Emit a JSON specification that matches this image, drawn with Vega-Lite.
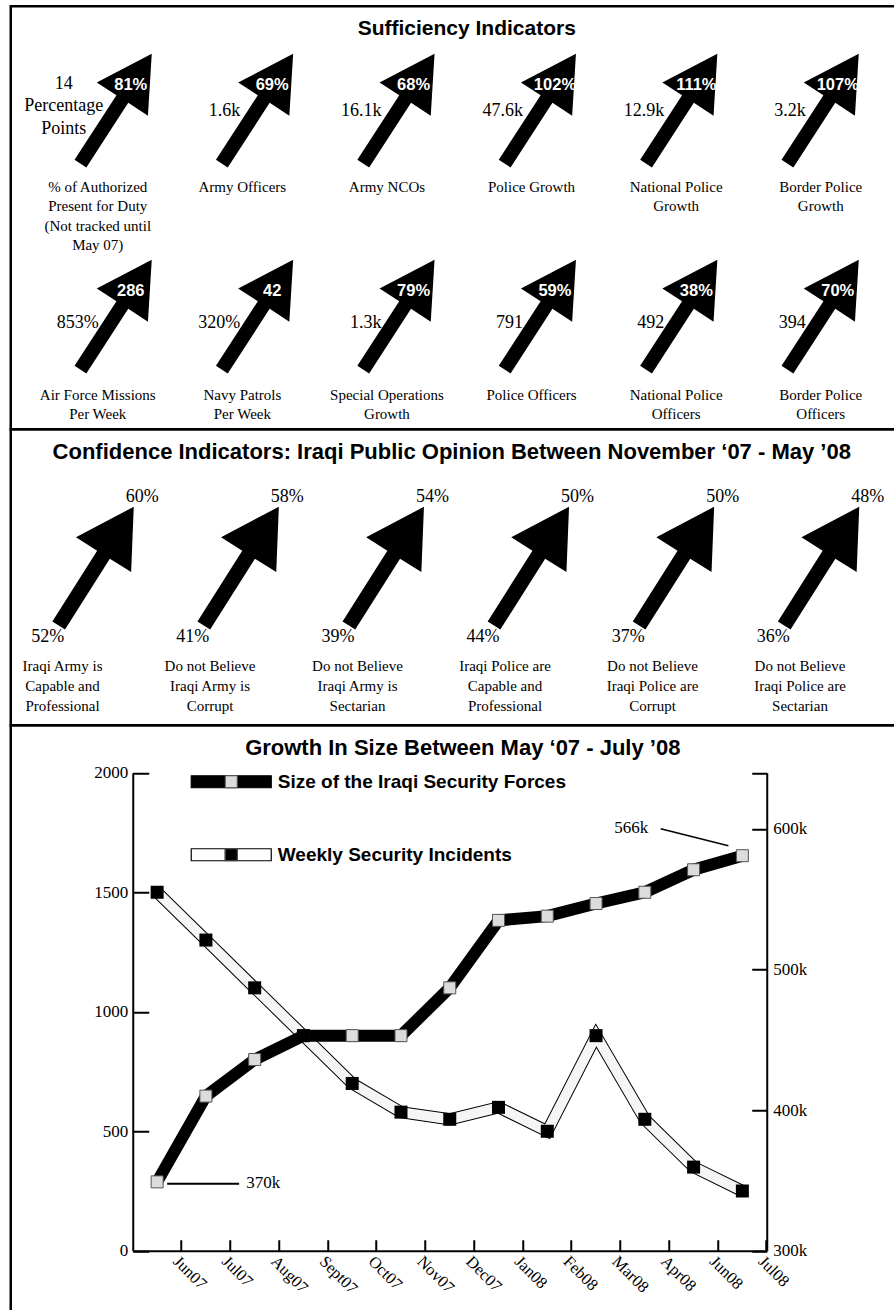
{
  "$schema": "https://vega.github.io/schema/vega-lite/v6.json",
  "padding": {"left": 8.75, "top": 4.25, "right": 0, "bottom": 0},
  "background": "white",
  "spacing": 0,
  "bounds": "flush",
  "resolve": {"scale": {"color": "independent", "fill": "independent"}, "legend": {"color": "independent", "fill": "independent"}},
  "config": {
    "view": {"stroke": "black", "strokeWidth": 2.5},
    "axis": {"grid": false, "domainColor": "black", "domainWidth": 2, "tickColor": "black", "tickWidth": 2, "labelColor": "black", "labelFont": "Liberation Serif", "labelFontSize": 17}
  },
  "datasets": {
    "suff": [
      {"col": 0, "row": 0, "pct": "81%", "lead": "14\nPercentage\nPoints", "label": "% of Authorized\nPresent for Duty\n(Not tracked until\nMay 07)"},
      {"col": 1, "row": 0, "pct": "69%", "lead": "1.6k", "label": "Army Officers"},
      {"col": 2, "row": 0, "pct": "68%", "lead": "16.1k", "label": "Army NCOs"},
      {"col": 3, "row": 0, "pct": "102%", "lead": "47.6k", "label": "Police Growth"},
      {"col": 4, "row": 0, "pct": "111%", "lead": "12.9k", "label": "National Police\nGrowth"},
      {"col": 5, "row": 0, "pct": "107%", "lead": "3.2k", "label": "Border Police\nGrowth"},
      {"col": 0, "row": 1, "pct": "286", "lead": "853%", "label": "Air Force Missions\nPer Week"},
      {"col": 1, "row": 1, "pct": "42", "lead": "320%", "label": "Navy Patrols\nPer Week"},
      {"col": 2, "row": 1, "pct": "79%", "lead": "1.3k", "label": "Special Operations\nGrowth"},
      {"col": 3, "row": 1, "pct": "59%", "lead": "791", "label": "Police Officers"},
      {"col": 4, "row": 1, "pct": "38%", "lead": "492", "label": "National Police\nOfficers"},
      {"col": 5, "row": 1, "pct": "70%", "lead": "394", "label": "Border Police\nOfficers"}
    ],
    "conf": [
      {"col": 0, "row": 0, "to": "60%", "from": "52%", "label": "Iraqi Army is\nCapable and\nProfessional"},
      {"col": 1, "row": 0, "to": "58%", "from": "41%", "label": "Do not Believe\nIraqi Army is\nCorrupt"},
      {"col": 2, "row": 0, "to": "54%", "from": "39%", "label": "Do not Believe\nIraqi Army is\nSectarian"},
      {"col": 3, "row": 0, "to": "50%", "from": "44%", "label": "Iraqi Police are\nCapable and\nProfessional"},
      {"col": 4, "row": 0, "to": "50%", "from": "37%", "label": "Do not Believe\nIraqi Police are\nCorrupt"},
      {"col": 5, "row": 0, "to": "48%", "from": "36%", "label": "Do not Believe\nIraqi Police are\nSectarian"}
    ],
    "forces": [
      {"month": "Jun07", "k": 349, "note": "370k", "series": "Size of the Iraqi Security Forces", "key": "S"},
      {"month": "Jul07", "k": 410, "note": "", "series": "Size of the Iraqi Security Forces", "key": "S"},
      {"month": "Aug07", "k": 436, "note": "", "series": "Size of the Iraqi Security Forces", "key": "S"},
      {"month": "Sept07", "k": 453, "note": "", "series": "Size of the Iraqi Security Forces", "key": "S"},
      {"month": "Oct07", "k": 453, "note": "", "series": "Size of the Iraqi Security Forces", "key": "S"},
      {"month": "Nov07", "k": 453, "note": "", "series": "Size of the Iraqi Security Forces", "key": "S"},
      {"month": "Dec07", "k": 487, "note": "", "series": "Size of the Iraqi Security Forces", "key": "S"},
      {"month": "Jan08", "k": 535, "note": "", "series": "Size of the Iraqi Security Forces", "key": "S"},
      {"month": "Feb08", "k": 538, "note": "", "series": "Size of the Iraqi Security Forces", "key": "S"},
      {"month": "Mar08", "k": 547, "note": "", "series": "Size of the Iraqi Security Forces", "key": "S"},
      {"month": "Apr08", "k": 555, "note": "", "series": "Size of the Iraqi Security Forces", "key": "S"},
      {"month": "Jun08", "k": 571, "note": "", "series": "Size of the Iraqi Security Forces", "key": "S"},
      {"month": "Jul08", "k": 581, "note": "566k", "series": "Size of the Iraqi Security Forces", "key": "S"}
    ],
    "incidents": [
      {"month": "Jun07", "value": 1500, "series": "Weekly Security Incidents", "key": "W"},
      {"month": "Jul07", "value": 1300, "series": "Weekly Security Incidents", "key": "W"},
      {"month": "Aug07", "value": 1100, "series": "Weekly Security Incidents", "key": "W"},
      {"month": "Sept07", "value": 900, "series": "Weekly Security Incidents", "key": "W"},
      {"month": "Oct07", "value": 700, "series": "Weekly Security Incidents", "key": "W"},
      {"month": "Nov07", "value": 580, "series": "Weekly Security Incidents", "key": "W"},
      {"month": "Dec07", "value": 550, "series": "Weekly Security Incidents", "key": "W"},
      {"month": "Jan08", "value": 600, "series": "Weekly Security Incidents", "key": "W"},
      {"month": "Feb08", "value": 500, "series": "Weekly Security Incidents", "key": "W"},
      {"month": "Mar08", "value": 900, "series": "Weekly Security Incidents", "key": "W"},
      {"month": "Apr08", "value": 550, "series": "Weekly Security Incidents", "key": "W"},
      {"month": "Jun08", "value": 350, "series": "Weekly Security Incidents", "key": "W"},
      {"month": "Jul08", "value": 250, "series": "Weekly Security Incidents", "key": "W"}
    ],
    "legendRows": [
      {"month": "Jun07", "series": "Size of the Iraqi Security Forces"},
      {"month": "Jun07", "series": "Weekly Security Incidents"}
    ]
  },
  "vconcat": [
    {
      "width": 886,
      "height": 423,
      "title": {"text": "Sufficiency Indicators", "frame": "group", "anchor": "middle", "baseline": "alphabetic", "offset": -30.75, "dy": 19, "dx": 13, "font": "Liberation Sans", "fontSize": 21, "fontWeight": "bold", "color": "black"},
      "data": {"name": "suff"},
      "resolve": {"scale": {"x": "independent", "y": "independent"}},
      "layer": [
        {
          "mark": {"type": "point", "shape": "M0,0L-3.8,61.9L-23.5,49.1L-65.4,113.7L-77.2,106.1L-35.3,41.5L-55,28.7Z", "size": 4, "filled": true, "fill": "black", "strokeWidth": 0, "opacity": 1},
          "encoding": {
            "x": {"field": "col", "type": "quantitative", "scale": {"domain": [0, 5], "range": [141, 848], "nice": false, "zero": false}, "axis": null},
            "y": {"field": "row", "type": "quantitative", "scale": {"domain": [0, 1], "range": [47.5, 253.5], "nice": false, "zero": false}, "axis": null}
          }
        },
        {
          "mark": {"type": "text", "font": "Liberation Sans", "fontWeight": "bold", "fontSize": 16.5, "fill": "white", "align": "center", "baseline": "middle", "dx": -21, "dy": 31},
          "encoding": {
            "x": {"field": "col", "type": "quantitative", "scale": {"domain": [0, 5], "range": [141, 848], "nice": false, "zero": false}, "axis": null},
            "y": {"field": "row", "type": "quantitative", "scale": {"domain": [0, 1], "range": [47.5, 253.5], "nice": false, "zero": false}, "axis": null},
            "text": {"field": "pct"}
          }
        },
        {
          "transform": [{"filter": "indexof(datum.lead, '\\n') < 0"}],
          "mark": {"type": "text", "font": "Liberation Serif", "fontSize": 18, "fill": "black", "align": "right", "baseline": "middle", "dx": -53, "dy": 57},
          "encoding": {
            "x": {"field": "col", "type": "quantitative", "scale": {"domain": [0, 5], "range": [141, 848], "nice": false, "zero": false}, "axis": null},
            "y": {"field": "row", "type": "quantitative", "scale": {"domain": [0, 1], "range": [47.5, 259.5], "nice": false, "zero": false}, "axis": null},
            "text": {"field": "lead"}
          }
        },
        {
          "transform": [{"filter": "indexof(datum.lead, '\\n') >= 0"}],
          "mark": {"type": "text", "font": "Liberation Serif", "fontSize": 18, "fill": "black", "align": "center", "baseline": "middle", "dx": -88, "dy": 30, "lineBreak": "\n", "lineHeight": 22.5},
          "encoding": {
            "x": {"field": "col", "type": "quantitative", "scale": {"domain": [0, 5], "range": [141, 848], "nice": false, "zero": false}, "axis": null},
            "y": {"field": "row", "type": "quantitative", "scale": {"domain": [0, 1], "range": [47.5, 259.5], "nice": false, "zero": false}, "axis": null},
            "text": {"field": "lead"}
          }
        },
        {
          "mark": {"type": "text", "font": "Liberation Serif", "fontSize": 15, "fill": "black", "align": "center", "baseline": "alphabetic", "dy": 138, "lineBreak": "\n", "lineHeight": 19.5},
          "encoding": {
            "x": {"field": "col", "type": "quantitative", "scale": {"domain": [0, 5], "range": [87, 810], "nice": false, "zero": false}, "axis": null},
            "y": {"field": "row", "type": "quantitative", "scale": {"domain": [0, 1], "range": [47.5, 255.5], "nice": false, "zero": false}, "axis": null},
            "text": {"field": "label"}
          }
        }
      ]
    },
    {
      "width": 886,
      "height": 296,
      "title": {"text": "Confidence Indicators: Iraqi Public Opinion Between November ‘07 - May ’08", "frame": "group", "anchor": "middle", "baseline": "alphabetic", "offset": -32.75, "dy": 18.5, "dx": -2, "font": "Liberation Sans", "fontSize": 22, "fontWeight": "bold", "color": "black"},
      "data": {"name": "conf"},
      "resolve": {"scale": {"x": "independent"}},
      "encoding": {
        "y": {"field": "row", "type": "quantitative", "scale": {"domain": [0, 1], "range": [77.5, 277.5], "nice": false, "zero": false}, "axis": null}
      },
      "layer": [
        {
          "mark": {"type": "point", "shape": "M0,0L-2.6,65.3L-23.9,51.9L-68.7,122.8L-81.4,114.8L-36.6,43.9L-57.8,30.5Z", "size": 4, "filled": true, "fill": "black", "strokeWidth": 0, "opacity": 1},
          "encoding": {
            "x": {"field": "col", "type": "quantitative", "scale": {"domain": [0, 5], "range": [123, 848.5], "nice": false, "zero": false}, "axis": null}
          }
        },
        {
          "mark": {"type": "text", "font": "Liberation Serif", "fontSize": 18, "fill": "black", "align": "left", "baseline": "alphabetic", "dx": -8, "dy": -5},
          "encoding": {
            "x": {"field": "col", "type": "quantitative", "scale": {"domain": [0, 5], "range": [123, 848.5], "nice": false, "zero": false}, "axis": null},
            "text": {"field": "to"}
          }
        },
        {
          "mark": {"type": "text", "font": "Liberation Serif", "fontSize": 18, "fill": "black", "align": "center", "baseline": "alphabetic", "dx": -86, "dy": 135},
          "encoding": {
            "x": {"field": "col", "type": "quantitative", "scale": {"domain": [0, 5], "range": [123, 848.5], "nice": false, "zero": false}, "axis": null},
            "text": {"field": "from"}
          }
        },
        {
          "mark": {"type": "text", "font": "Liberation Serif", "fontSize": 15, "fill": "black", "align": "center", "baseline": "alphabetic", "dy": 164, "lineBreak": "\n", "lineHeight": 20},
          "encoding": {
            "x": {"field": "col", "type": "quantitative", "scale": {"domain": [0, 5], "range": [51.75, 789.25], "nice": false, "zero": false}, "axis": null},
            "text": {"field": "label"}
          }
        }
      ]
    },
    {
      "width": 886,
      "height": 590,
      "title": {"text": "Growth In Size Between May ‘07 - July ’08", "frame": "group", "anchor": "middle", "baseline": "alphabetic", "offset": -31.75, "dy": 19.5, "dx": 9, "font": "Liberation Sans", "fontSize": 22, "fontWeight": "bold", "color": "black"},
      "encoding": {
        "x": {
          "field": "month", "type": "ordinal", "bandPosition": 0.5,
          "scale": {"type": "band", "domain": ["Jun07", "Jul07", "Aug07", "Sept07", "Oct07", "Nov07", "Dec07", "Jan08", "Feb08", "Mar08", "Apr08", "Jun08", "Jul08"], "range": [122, 756], "paddingInner": 0, "paddingOuter": 0},
          "axis": {"orient": "bottom", "offset": -64.5, "bandPosition": 1, "tickSize": -11, "labelPadding": 13, "labelOffset": 24.4, "labelAngle": 45, "labelAlign": "left", "labelBaseline": "top", "labelFontSize": 16.5, "title": null}
        }
      },
      "resolve": {"scale": {"y": "independent"}},
      "layer": [
        {
          "data": {"name": "incidents"},
          "encoding": {
            "y": {"field": "value", "type": "quantitative", "scale": {"domain": [0, 2000], "range": [525.5, 47.5], "nice": false, "zero": false},
                  "axis": {"orient": "left", "offset": -122, "values": [0, 500, 1000, 1500, 2000], "format": "d", "tickSize": -16, "labelPadding": 21, "title": null}}
          },
          "layer": [
            {"mark": {"type": "line", "stroke": "black", "strokeWidth": 12}},
            {"mark": {"type": "line", "stroke": "#f5f5f5", "strokeWidth": 10}}
          ]
        },
        {
          "data": {"name": "forces"},
          "encoding": {
            "y": {"field": "k", "type": "quantitative", "scale": {"domain": [300, 640], "range": [525.5, 47.5], "nice": false, "zero": false},
                  "axis": {"orient": "right", "offset": -130, "values": [300, 400, 500, 600, 640], "labelExpr": "datum.value == 640 ? '' : datum.value + 'k'", "tickSize": -15, "labelPadding": 21, "title": null}}
          },
          "layer": [
            {"mark": {"type": "line", "stroke": "black", "strokeWidth": 12}},
            {
              "mark": {"type": "point", "shape": "square", "filled": true, "size": 144, "stroke": "#555555", "strokeWidth": 1, "opacity": 1},
              "encoding": {
                "fill": {"field": "key", "type": "nominal", "scale": {"domain": ["S", "W"], "range": ["#dcdcdc", "black"]},
                         "legend": {"orient": "none", "legendX": 211, "legendY": 47, "title": null, "direction": "vertical", "symbolType": "square", "symbolSize": 144, "symbolStrokeColor": "#555555", "symbolStrokeWidth": 1, "symbolOpacity": 1, "labelFont": "Liberation Sans", "labelFontWeight": "bold", "labelFontSize": 19, "labelOpacity": 0, "labelExpr": "' '", "labelOffset": 37, "rowPadding": 53, "padding": 0, "zindex": 2}}
              }
            },
            {
              "transform": [{"filter": "datum.note == '370k'"}],
              "mark": {"type": "rule", "stroke": "black", "strokeWidth": 2, "xOffset": 10, "x2Offset": 82, "yOffset": 2, "y2Offset": 2},
              "encoding": {"x2": {"field": "month", "bandPosition": 0.5}, "y2": {"field": "k"}}
            },
            {
              "transform": [{"filter": "datum.note == '566k'"}],
              "mark": {"type": "rule", "stroke": "black", "strokeWidth": 1.5, "xOffset": -81.7, "x2Offset": -14, "yOffset": -27, "y2Offset": -10},
              "encoding": {"x2": {"field": "month", "bandPosition": 0.5}, "y2": {"field": "k"}}
            },
            {
              "transform": [{"filter": "datum.note == '370k'"}],
              "mark": {"type": "text", "font": "Liberation Serif", "fontSize": 17, "fill": "black", "align": "left", "baseline": "middle", "dx": 89, "dy": 1.5},
              "encoding": {"text": {"field": "note"}}
            },
            {
              "transform": [{"filter": "datum.note == '566k'"}],
              "mark": {"type": "text", "font": "Liberation Serif", "fontSize": 17, "fill": "black", "align": "right", "baseline": "middle", "dx": -94, "dy": -27.5},
              "encoding": {"text": {"field": "note"}}
            }
          ]
        },
        {
          "data": {"name": "incidents"},
          "mark": {"type": "point", "shape": "square", "filled": true, "size": 169, "opacity": 1, "strokeWidth": 0},
          "encoding": {
            "y": {"field": "value", "type": "quantitative", "scale": {"domain": [0, 2000], "range": [525.5, 47.5], "nice": false, "zero": false}, "axis": null},
            "fill": {"field": "key", "type": "nominal", "scale": {"domain": ["S", "W"], "range": ["#dcdcdc", "black"]},
                     "legend": {"orient": "none", "legendX": 211, "legendY": 47, "title": null, "direction": "vertical", "symbolType": "square", "symbolSize": 144, "symbolStrokeColor": "#555555", "symbolStrokeWidth": 1, "symbolOpacity": 1, "labelFont": "Liberation Sans", "labelFontWeight": "bold", "labelFontSize": 19, "labelOpacity": 0, "labelExpr": "' '", "labelOffset": 37, "rowPadding": 53, "padding": 0, "zindex": 2}}
          }
        },
        {
          "data": {"name": "legendRows"},
          "mark": {"type": "point", "shape": "M-40,-6H40V6H-40ZM-6,-5V5H6V-5Z", "size": 4, "filled": true, "opacity": 0, "stroke": "black", "strokeWidth": 1.2},
          "encoding": {
            "color": {"field": "series", "type": "nominal", "scale": {"domain": ["Size of the Iraqi Security Forces", "Weekly Security Incidents"], "range": ["black", "white"]},
                      "legend": {"orient": "none", "legendX": 211, "legendY": 47, "title": null, "direction": "vertical", "symbolType": "M-40,-6H40V6H-40ZM-6,-5V5H6V-5Z", "symbolSize": 4, "symbolStrokeColor": "black", "symbolStrokeWidth": 1.2, "symbolOpacity": 1, "labelFont": "Liberation Sans", "labelFontWeight": "bold", "labelFontSize": 19, "labelColor": "black", "labelOffset": 37, "labelLimit": 500, "rowPadding": 53, "padding": 0, "zindex": 1}}
          }
        }
      ]
    }
  ]
}
